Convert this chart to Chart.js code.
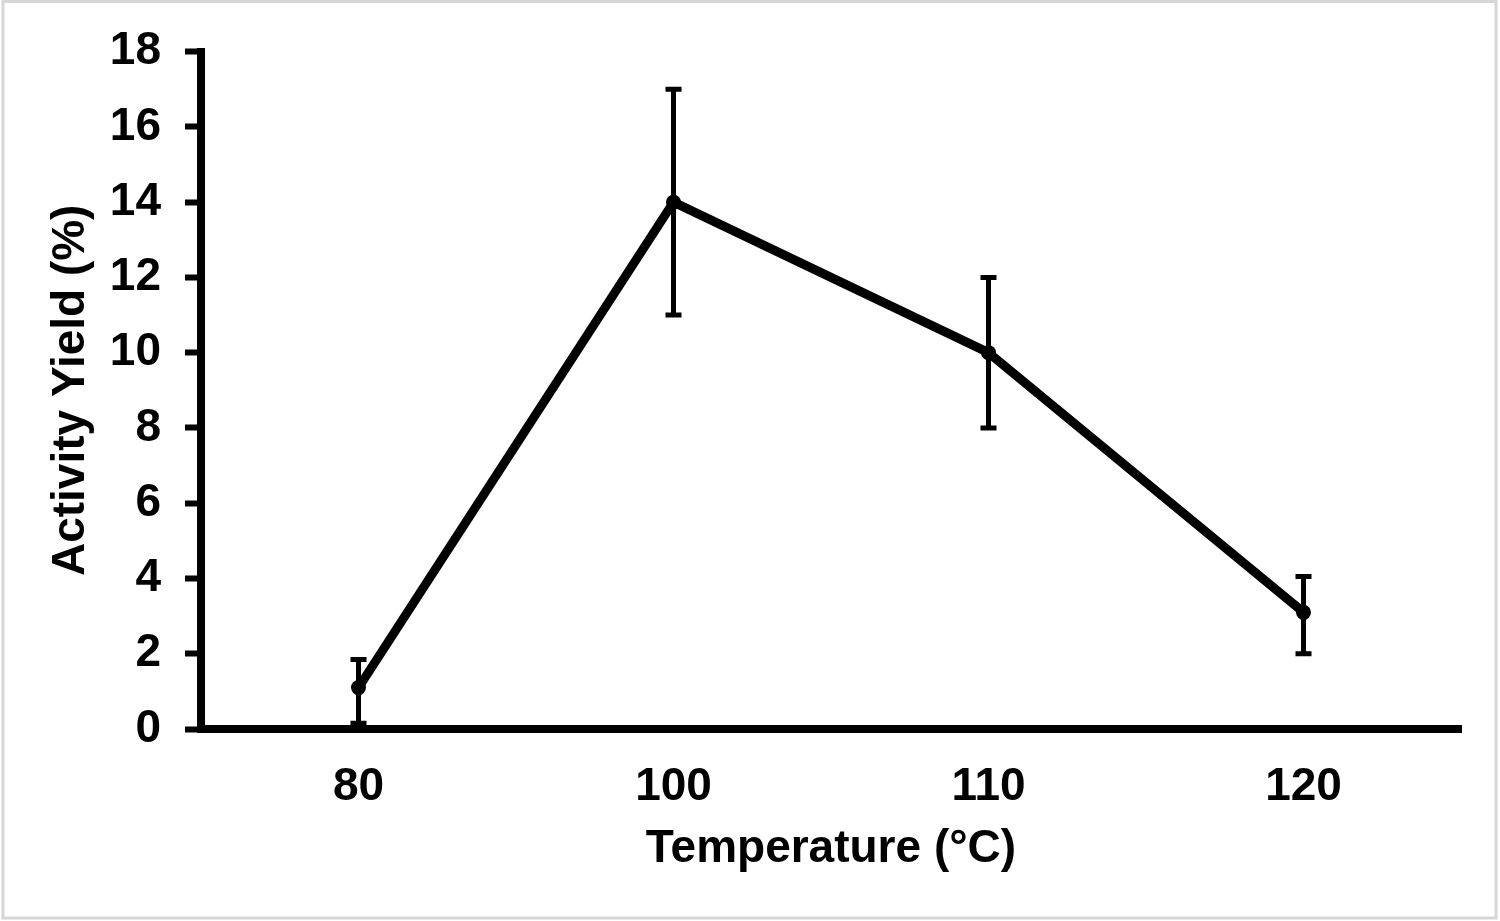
<!DOCTYPE html>
<html>
<head>
<meta charset="utf-8">
<script src="https://cdn.jsdelivr.net/npm/chart.js@4/dist/chart.umd.min.js"></script>
<style>
  html, body { margin: 0; padding: 0; background: #ffffff; }
  #c { display: block; }
</style>
</head>
<body>
<canvas id="c" width="1500" height="921"></canvas>
<script>
// ---- data ----
const categories = ['80', '100', '110', '120'];
const yieldValues = [1.1, 14.0, 10.0, 3.1];
const errorLow = [0.15, 11.0, 8.0, 2.0];
const errorHigh = [1.85, 17.0, 12.0, 4.05];
const yTickMin = 0;
const yTickMax = 18;
const yTickStep = 2;
const xTitle = 'Temperature (°C)';
const yTitle = 'Activity Yield (%)';

const FONT = '"Liberation Sans", Arial, Helvetica, sans-serif';

const framePlugin = {
  id: 'frame',
  beforeDraw(chart) {
    const ctx = chart.ctx;
    ctx.save();
    ctx.fillStyle = '#ffffff';
    ctx.fillRect(0, 0, chart.width, chart.height);
    ctx.restore();
  },
  afterDraw(chart) {
    const ctx = chart.ctx;
    ctx.save();
    ctx.strokeStyle = '#d6d6d6';
    ctx.lineWidth = 3;
    ctx.strokeRect(3, 1.5, 1493, 916.5);
    ctx.restore();
  }
};

const errorBarPlugin = {
  id: 'errorBars',
  afterDatasetsDraw(chart) {
    const { ctx, scales: { x, y } } = chart;
    ctx.save();
    ctx.strokeStyle = '#000000';
    ctx.lineWidth = 5;
    ctx.lineCap = 'butt';
    categories.forEach((c, i) => {
      const px = x.getPixelForValue(i);
      const yl = y.getPixelForValue(errorLow[i]);
      const yh = y.getPixelForValue(errorHigh[i]);
      ctx.beginPath();
      ctx.moveTo(px, yl);
      ctx.lineTo(px, yh);
      ctx.moveTo(px - 8, yl);
      ctx.lineTo(px + 8, yl);
      ctx.moveTo(px - 8, yh);
      ctx.lineTo(px + 8, yh);
      ctx.stroke();
    });
    ctx.restore();
  }
};

new Chart(document.getElementById('c'), {
  type: 'line',
  data: {
    labels: categories,
    datasets: [{
      data: yieldValues,
      borderColor: '#000000',
      backgroundColor: '#000000',
      borderWidth: 9,
      borderJoinStyle: 'round',
      borderCapStyle: 'round',
      tension: 0,
      pointRadius: 7.5,
      pointBackgroundColor: '#000000',
      pointBorderWidth: 0,
      clip: false,
      fill: false
    }]
  },
  options: {
    responsive: false,
    devicePixelRatio: 1,
    animation: false,
    layout: { padding: { top: 43, right: 39, bottom: 0, left: 0 } },
    plugins: {
      legend: { display: false },
      tooltip: { enabled: false }
    },
    scales: {
      x: {
        type: 'category',
        offset: true,
        grid: { display: false, drawTicks: false },
        border: { display: true, color: '#000000', width: 8 },
        ticks: {
          color: '#000000',
          padding: 31,
          font: { family: FONT, size: 46, weight: 'bold' }
        },
        title: {
          display: true,
          text: xTitle,
          color: '#000000',
          padding: { top: 0, bottom: 44 },
          font: { family: FONT, size: 46, weight: 'bold' }
        },
        afterFit(scale) { scale.height = 192; }
      },
      y: {
        min: yTickMin,
        max: yTickMax,
        grid: {
          display: true,
          drawOnChartArea: false,
          drawTicks: true,
          tickLength: 16,
          tickWidth: 6,
          tickColor: '#000000',
          color: '#000000'
        },
        border: { display: true, color: '#000000', width: 8 },
        ticks: {
          stepSize: yTickStep,
          color: '#000000',
          padding: 24,
          font: { family: FONT, size: 46, weight: 'bold' }
        },
        title: {
          display: true,
          text: yTitle,
          color: '#000000',
          padding: { top: 44, bottom: 0 },
          font: { family: FONT, size: 46, weight: 'bold' }
        },
        afterFit(scale) { scale.width = 201; }
      }
    }
  },
  plugins: [framePlugin, errorBarPlugin]
});
</script>
</body>
</html>
